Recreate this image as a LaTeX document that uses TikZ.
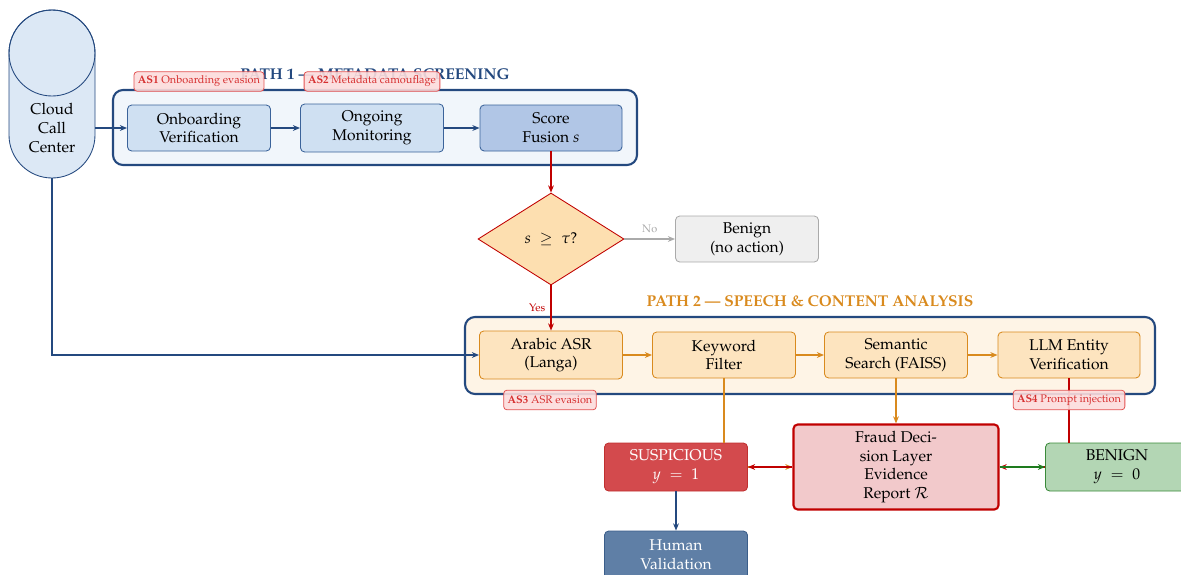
\documentclass[tikz,border=0pt]{standalone}
\usepackage[T1]{fontenc}
\usepackage{mathpazo}
\usetikzlibrary{arrows.meta,shapes.geometric,calc}
\definecolor{dblue}{HTML}{24497F}
\definecolor{cylfill}{HTML}{DCE8F5}
\definecolor{pfill}{HTML}{F1F6FB}
\definecolor{bfill}{HTML}{CFE0F2}
\definecolor{bborder}{HTML}{3B639A}
\definecolor{sfill}{HTML}{B1C6E6}
\definecolor{dred}{HTML}{C00000}
\definecolor{dfill}{HTML}{FDDFB0}
\definecolor{gline}{HTML}{AAAAAA}
\definecolor{gfill}{HTML}{EFEFEF}
\definecolor{orng}{HTML}{D98A1E}
\definecolor{ofill}{HTML}{FDE4BF}
\definecolor{p2fill}{HTML}{FEF4E6}
\definecolor{tagfill}{HTML}{FCDCDC}
\definecolor{tagline}{HTML}{E25050}
\definecolor{tagtext}{HTML}{D63030}
\definecolor{susfill}{HTML}{D34A4D}
\definecolor{susline}{HTML}{C03030}
\definecolor{frfill}{HTML}{F2C9CB}
\definecolor{bnfill}{HTML}{B3D6B4}
\definecolor{bnline}{HTML}{3A8A3A}
\definecolor{garrow}{HTML}{1E7B1E}
\definecolor{hfill}{HTML}{5F7FA6}
\definecolor{hline}{HTML}{3B5E8A}
\def\U{0.64pt}
\tikzset{
  box/.style={rectangle, rounded corners=2.7pt, align=center, minimum width=143*\U, minimum height=46*\U, inner sep=1pt, line width=0.55pt},
  bluebox/.style={box, draw=bborder, fill=bfill},
  orbox/.style={box, draw=orng, fill=ofill},
  container/.style={rounded corners=6.4pt, line width=1.35pt, draw=dblue},
  tag/.style={rectangle, rounded corners=2pt, draw=tagline, fill=tagfill, fill opacity=0.9, text opacity=1, text=tagtext, font=\scriptsize, inner xsep=2.5pt, inner ysep=2pt, minimum height=19.5*\U, line width=0.5pt},
  arr/.style={-{Stealth[length=4.6pt,width=3.7pt]}, line width=0.8pt},
  title/.style={font=\bfseries},
}
\begin{document}
\begin{tikzpicture}[x=0.64pt, y=-0.64pt]
\useasboundingbox (0,0) rectangle (1181,574);
% containers
\draw[container, fill=pfill] (113,90) rectangle (637,165);
\draw[container, fill=p2fill] (465,317) rectangle (1155,394);
\node[title, text=dblue] (t1) at (375,74) {PATH 1 --- METADATA SCREENING};
\node[title, text=orng] (t2) at (810,301) {PATH 2 --- SPEECH \& CONTENT ANALYSIS};
% cloud cylinder
\node (cloud) [minimum width=86*\U, minimum height=168*\U, inner sep=0pt] at (52,94) {};
\draw[draw=dblue, fill=cylfill, line width=0.55pt]
  (9,53) -- (9,135) arc[start angle=180, end angle=360, x radius=43, y radius=-43]
  -- (95,53) arc[start angle=0, end angle=180, x radius=43, y radius=-43] -- cycle;
\draw[draw=dblue, line width=0.55pt] (52,53) ellipse[x radius=43, y radius=43];
\node[align=center] (cloudtxt) at (52,128) {Cloud\\Call\\Center};
% path 1 boxes
\node[bluebox] (onb) at (199,128) {Onboarding\\Verification};
\node[bluebox, minimum height=48*\U] (mon) at (372,128) {Ongoing\\Monitoring};
\node[box, draw=bborder, fill=sfill, minimum width=142*\U] (score) at (551,128) {Score\\Fusion $s$};
\node[tag] (as1) at (199,81.5) {\textbf{AS1} Onboarding evasion};
\node[tag] (as2) at (372,81.5) {\textbf{AS2} Metadata camouflage};
% decision
\node[diamond, draw=dred, fill=dfill, aspect=1.59, minimum width=146*\U, minimum height=92*\U, inner sep=0pt, line width=0.55pt] (dec) at (551,239) {$s \;\geq\; \tau$?};
\node[box, draw=gline, fill=gfill] (benign) at (747,239) {Benign\\(no action)};
% path 2 boxes
\node[orbox, minimum height=48*\U] (asr) at (551,355) {Arabic ASR\\(Langa)};
\node[orbox] (kw) at (724,355) {Keyword\\Filter};
\node[orbox] (sem) at (896,355) {Semantic\\Search (FAISS)};
\node[orbox, minimum width=142*\U] (llm) at (1069,355) {LLM Entity\\Verification};
% outputs
\node[box, draw=susline, fill=susfill, text=white, minimum height=48*\U] (sus) at (676,467) {SUSPICIOUS\\$y\;=\;1$};
\node[box, draw=dred, fill=frfill, line width=1.35pt, minimum width=205*\U, minimum height=85*\U] (fraud) at (896,467) {Fraud Deci-\\sion Layer\\Evidence\\Report $\mathcal{R}$};
\node[box, draw=bnline, fill=bnfill, minimum height=48*\U] (ben) at (1117,467) {BENIGN\\$y\;=\;0$};
\node[box, draw=hline, fill=hfill, text=white, minimum height=48*\U] (human) at (676,555) {Human\\Validation};
% connectors
\draw[arr, dblue] (cloud.east |- onb.west) -- (onb.west);
\draw[arr, dblue] (onb) -- (mon);
\draw[arr, dblue] (mon) -- (score);
\draw[arr, dred] (score) -- (dec);
\draw[arr, gline] (dec.east) -- node[above, font=\scriptsize, text=gline, pos=0.5] (nolab) {No} (benign.west);
\draw[arr, dred] (dec.south) -- node[left, font=\scriptsize, text=dred, pos=0.5] (yeslab) {Yes} (asr.north);
\draw[arr, dblue] (cloud.south) |- (asr.west);
\draw[arr, orng] (asr) -- (kw);
\draw[arr, orng] (kw) -- (sem);
\draw[arr, orng] (sem) -- (llm);
\draw[orng, line width=0.8pt] (kw.south) -- (kw.south |- sus.north);
\draw[arr, orng] (sem.south) -- (fraud.north);
\draw[dred, line width=0.8pt] (llm.south) -- (llm.south |- ben.north);
\draw[arr, orng] (sus.east) -- (fraud.west);
\draw[arr, dred] (fraud.west) -- (sus.east);
\draw[arr, dred] (ben.west) -- (fraud.east);
\draw[arr, garrow] (fraud.east) -- (ben.west);
\draw[arr, dblue] (sus) -- (human);
\node[tag] (as3) at (550,400) {\textbf{AS3} ASR evasion};
\node[tag] (as4) at (1069,400) {\textbf{AS4} Prompt injection};
\end{tikzpicture}
\end{document}
